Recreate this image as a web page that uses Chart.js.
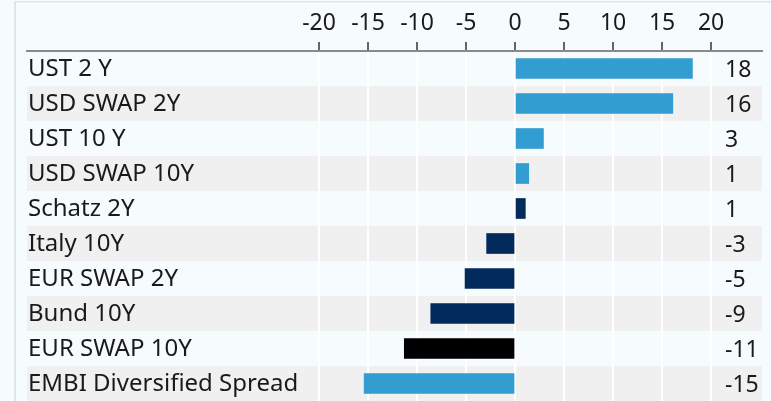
<!DOCTYPE html>
<html>
<head>
<meta charset="utf-8">
<script src="https://cdn.jsdelivr.net/npm/chart.js@4"></script>
<style>
  html, body { margin: 0; padding: 0; background: #f6fcfd; }
  canvas { display: block; }
</style>
</head>
<body>
<canvas id="c" width="771" height="401"></canvas>
<script>
// ---- data ----
const categories = ["UST 2 Y", "USD SWAP 2Y", "UST 10 Y", "USD SWAP 10Y", "Schatz 2Y",
  "Italy 10Y", "EUR SWAP 2Y", "Bund 10Y", "EUR SWAP 10Y", "EMBI Diversified Spread"];
const values = [18.1, 16.1, 2.9, 1.4, 1.05, -2.9, -5.1, -8.6, -11.3, -15.4];
const valueLabels = ["18", "16", "3", "1", "1", "-3", "-5", "-9", "-11", "-15"];
const barColors = ["#319dd0", "#319dd0", "#319dd0", "#319dd0", "#022a5a",
  "#022a5a", "#022a5a", "#022a5a", "#000000", "#319dd0"];
const tickValues = [-20, -15, -10, -5, 0, 5, 10, 15, 20];

const FONT = "'Noto Sans'";
const TEXT = "#1a1a1a";

const decorPlugin = {
  id: "decor",
  beforeDraw(chart) {
    const ctx = chart.ctx;
    const area = chart.chartArea;
    const y = chart.scales.y;
    ctx.save();
    ctx.fillStyle = "#f6fcfd";
    ctx.fillRect(0, 0, chart.width, chart.height);
    // panel borders
    ctx.fillStyle = "#dfe5e8";
    ctx.fillRect(14, 1, 2, chart.height);
    ctx.fillRect(14, 1, chart.width - 14, 1.5);
    // alternating row bands
    ctx.fillStyle = "#f1f0f0";
    const step = area.height / categories.length;
    categories.forEach((c, i) => {
      if (i % 2 === 1) {
        const cy = y.getPixelForValue(i);
        ctx.fillRect(area.left, cy - step / 2, area.right - area.left, step);
      }
    });
    ctx.restore();
  },
  afterDatasetsDraw(chart) {
    const ctx = chart.ctx;
    const y = chart.scales.y;
    ctx.save();
    ctx.font = "23px " + FONT;
    ctx.fillStyle = TEXT;
    ctx.textAlign = "left";
    ctx.textBaseline = "middle";
    valueLabels.forEach((t, i) => {
      ctx.fillText(t, 725, y.getPixelForValue(i) + 2);
    });
    ctx.restore();
  }
};

new Chart(document.getElementById("c"), {
  type: "bar",
  data: {
    labels: categories,
    datasets: [{
      data: values,
      backgroundColor: barColors,
      barThickness: 20,
      borderWidth: 0
    }]
  },
  options: {
    indexAxis: "y",
    responsive: false,
    animation: false,
    devicePixelRatio: 1,
    layout: { padding: { left: 27, right: 9, top: 1, bottom: 0 } },
    plugins: { legend: { display: false }, tooltip: { enabled: false } },
    scales: {
      x: {
        position: "top",
        min: -49.8,
        max: 25.2,
        afterBuildTicks(scale) { scale.ticks = tickValues.map(v => ({ value: v })); },
        afterFit(scale) { scale.height = 50; scale.paddingLeft = 0; scale.paddingRight = 0; },
        grid: {
          color: "#ffffff",
          lineWidth: 2,
          tickColor: "#333333",
          tickLength: 9,
          tickWidth: 1.5
        },
        border: { display: true, color: "#8a8a8a", width: 2 },
        ticks: {
          font: { family: FONT, size: 23 },
          color: TEXT,
          padding: 5,
          maxRotation: 0,
          autoSkip: false
        }
      },
      y: {
        position: "left",
        offset: true,
        grid: { display: false },
        border: { display: false },
        afterFit(scale) { scale.width = 0; scale.paddingTop = 0; scale.paddingBottom = 0; },
        ticks: {
          mirror: true,
          padding: 1,
          labelOffset: 1,
          font: { family: FONT, size: 24 },
          color: TEXT,
          autoSkip: false
        }
      }
    }
  },
  plugins: [decorPlugin]
});
</script>
</body>
</html>
